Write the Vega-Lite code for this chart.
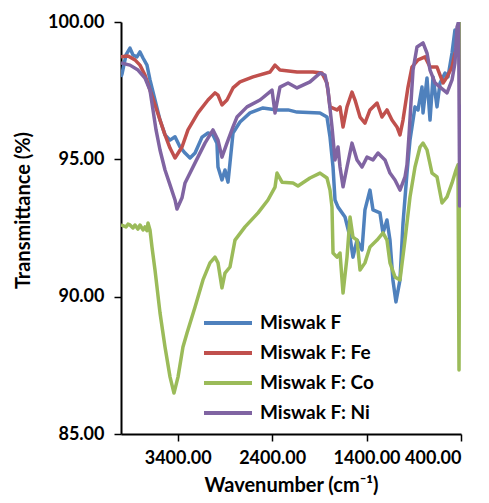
{
  "$schema": "https://vega.github.io/schema/vega-lite/v6.json",
  "autosize": {"type": "none"},
  "padding": {"left": 121, "top": 22, "right": 28, "bottom": 69},
  "width": 340,
  "height": 412,
  "background": "white",
  "config": {
    "view": {"stroke": null},
    "font": "Lato",
    "axis": {
      "grid": false,
      "domainColor": "black",
      "domainWidth": 2,
      "tickColor": "black",
      "tickWidth": 1.5,
      "tickSize": 7,
      "labelFont": "Lato",
      "labelFontSize": 18,
      "labelFontWeight": "bold",
      "labelColor": "black",
      "titleFont": "Lato",
      "titleFontSize": 20,
      "titleFontWeight": "bold",
      "titleColor": "black"
    }
  },
  "datasets": {
    "spectra": [
      {"sample": "Miswak F", "wavenumber": 4000, "transmittance": 98.00},
      {"sample": "Miswak F", "wavenumber": 3989, "transmittance": 98.11},
      {"sample": "Miswak F", "wavenumber": 3947, "transmittance": 98.80},
      {"sample": "Miswak F", "wavenumber": 3905, "transmittance": 99.05},
      {"sample": "Miswak F", "wavenumber": 3873, "transmittance": 98.80},
      {"sample": "Miswak F", "wavenumber": 3831, "transmittance": 98.73},
      {"sample": "Miswak F", "wavenumber": 3799, "transmittance": 98.91},
      {"sample": "Miswak F", "wavenumber": 3767, "transmittance": 98.69},
      {"sample": "Miswak F", "wavenumber": 3725, "transmittance": 98.43},
      {"sample": "Miswak F", "wavenumber": 3693, "transmittance": 97.89},
      {"sample": "Miswak F", "wavenumber": 3640, "transmittance": 97.16},
      {"sample": "Miswak F", "wavenumber": 3587, "transmittance": 96.43},
      {"sample": "Miswak F", "wavenumber": 3534, "transmittance": 95.89},
      {"sample": "Miswak F", "wavenumber": 3481, "transmittance": 95.70},
      {"sample": "Miswak F", "wavenumber": 3428, "transmittance": 95.82},
      {"sample": "Miswak F", "wavenumber": 3375, "transmittance": 95.45},
      {"sample": "Miswak F", "wavenumber": 3322, "transmittance": 95.23},
      {"sample": "Miswak F", "wavenumber": 3269, "transmittance": 95.05},
      {"sample": "Miswak F", "wavenumber": 3216, "transmittance": 95.23},
      {"sample": "Miswak F", "wavenumber": 3142, "transmittance": 95.81},
      {"sample": "Miswak F", "wavenumber": 3079, "transmittance": 95.96},
      {"sample": "Miswak F", "wavenumber": 3026, "transmittance": 95.89},
      {"sample": "Miswak F", "wavenumber": 2984, "transmittance": 95.59},
      {"sample": "Miswak F", "wavenumber": 2973, "transmittance": 94.72},
      {"sample": "Miswak F", "wavenumber": 2931, "transmittance": 94.25},
      {"sample": "Miswak F", "wavenumber": 2899, "transmittance": 94.61},
      {"sample": "Miswak F", "wavenumber": 2867, "transmittance": 94.17},
      {"sample": "Miswak F", "wavenumber": 2846, "transmittance": 94.87},
      {"sample": "Miswak F", "wavenumber": 2814, "transmittance": 95.96},
      {"sample": "Miswak F", "wavenumber": 2740, "transmittance": 96.36},
      {"sample": "Miswak F", "wavenumber": 2634, "transmittance": 96.69},
      {"sample": "Miswak F", "wavenumber": 2497, "transmittance": 96.87},
      {"sample": "Miswak F", "wavenumber": 2348, "transmittance": 96.80},
      {"sample": "Miswak F", "wavenumber": 2231, "transmittance": 96.80},
      {"sample": "Miswak F", "wavenumber": 2136, "transmittance": 96.72},
      {"sample": "Miswak F", "wavenumber": 1893, "transmittance": 96.69},
      {"sample": "Miswak F", "wavenumber": 1819, "transmittance": 96.54},
      {"sample": "Miswak F", "wavenumber": 1787, "transmittance": 95.81},
      {"sample": "Miswak F", "wavenumber": 1755, "transmittance": 94.72},
      {"sample": "Miswak F", "wavenumber": 1734, "transmittance": 93.52},
      {"sample": "Miswak F", "wavenumber": 1702, "transmittance": 93.26},
      {"sample": "Miswak F", "wavenumber": 1628, "transmittance": 92.90},
      {"sample": "Miswak F", "wavenumber": 1575, "transmittance": 92.17},
      {"sample": "Miswak F", "wavenumber": 1544, "transmittance": 91.44},
      {"sample": "Miswak F", "wavenumber": 1501, "transmittance": 92.06},
      {"sample": "Miswak F", "wavenumber": 1448, "transmittance": 91.70},
      {"sample": "Miswak F", "wavenumber": 1417, "transmittance": 93.16},
      {"sample": "Miswak F", "wavenumber": 1364, "transmittance": 93.88},
      {"sample": "Miswak F", "wavenumber": 1332, "transmittance": 93.16},
      {"sample": "Miswak F", "wavenumber": 1258, "transmittance": 93.05},
      {"sample": "Miswak F", "wavenumber": 1226, "transmittance": 92.32},
      {"sample": "Miswak F", "wavenumber": 1184, "transmittance": 92.79},
      {"sample": "Miswak F", "wavenumber": 1152, "transmittance": 92.06},
      {"sample": "Miswak F", "wavenumber": 1121, "transmittance": 90.61},
      {"sample": "Miswak F", "wavenumber": 1089, "transmittance": 89.81},
      {"sample": "Miswak F", "wavenumber": 1046, "transmittance": 90.61},
      {"sample": "Miswak F", "wavenumber": 1014, "transmittance": 92.68},
      {"sample": "Miswak F", "wavenumber": 972, "transmittance": 94.50},
      {"sample": "Miswak F", "wavenumber": 940, "transmittance": 95.70},
      {"sample": "Miswak F", "wavenumber": 919, "transmittance": 96.18},
      {"sample": "Miswak F", "wavenumber": 887, "transmittance": 96.91},
      {"sample": "Miswak F", "wavenumber": 855, "transmittance": 96.80},
      {"sample": "Miswak F", "wavenumber": 813, "transmittance": 97.63},
      {"sample": "Miswak F", "wavenumber": 802, "transmittance": 96.69},
      {"sample": "Miswak F", "wavenumber": 760, "transmittance": 97.96},
      {"sample": "Miswak F", "wavenumber": 728, "transmittance": 96.43},
      {"sample": "Miswak F", "wavenumber": 696, "transmittance": 98.00},
      {"sample": "Miswak F", "wavenumber": 654, "transmittance": 96.91},
      {"sample": "Miswak F", "wavenumber": 622, "transmittance": 97.78},
      {"sample": "Miswak F", "wavenumber": 569, "transmittance": 98.14},
      {"sample": "Miswak F", "wavenumber": 538, "transmittance": 98.00},
      {"sample": "Miswak F", "wavenumber": 495, "transmittance": 98.87},
      {"sample": "Miswak F", "wavenumber": 464, "transmittance": 99.71},
      {"sample": "Miswak F", "wavenumber": 442, "transmittance": 98.87},
      {"sample": "Miswak F", "wavenumber": 425, "transmittance": 100.0},
      {"sample": "Miswak F", "wavenumber": 410, "transmittance": 97.5},
      {"sample": "Miswak F", "wavenumber": 400, "transmittance": 98.2},

      {"sample": "Miswak F: Fe", "wavenumber": 4000, "transmittance": 98.73},
      {"sample": "Miswak F: Fe", "wavenumber": 3926, "transmittance": 98.76},
      {"sample": "Miswak F: Fe", "wavenumber": 3852, "transmittance": 98.62},
      {"sample": "Miswak F: Fe", "wavenumber": 3799, "transmittance": 98.43},
      {"sample": "Miswak F: Fe", "wavenumber": 3746, "transmittance": 98.07},
      {"sample": "Miswak F: Fe", "wavenumber": 3693, "transmittance": 97.52},
      {"sample": "Miswak F: Fe", "wavenumber": 3640, "transmittance": 96.98},
      {"sample": "Miswak F: Fe", "wavenumber": 3587, "transmittance": 96.43},
      {"sample": "Miswak F: Fe", "wavenumber": 3534, "transmittance": 95.89},
      {"sample": "Miswak F: Fe", "wavenumber": 3481, "transmittance": 95.41},
      {"sample": "Miswak F: Fe", "wavenumber": 3428, "transmittance": 95.05},
      {"sample": "Miswak F: Fe", "wavenumber": 3354, "transmittance": 95.45},
      {"sample": "Miswak F: Fe", "wavenumber": 3291, "transmittance": 96.07},
      {"sample": "Miswak F: Fe", "wavenumber": 3185, "transmittance": 96.69},
      {"sample": "Miswak F: Fe", "wavenumber": 3079, "transmittance": 97.16},
      {"sample": "Miswak F: Fe", "wavenumber": 3005, "transmittance": 97.42},
      {"sample": "Miswak F: Fe", "wavenumber": 2973, "transmittance": 97.34},
      {"sample": "Miswak F: Fe", "wavenumber": 2931, "transmittance": 96.98},
      {"sample": "Miswak F: Fe", "wavenumber": 2878, "transmittance": 97.16},
      {"sample": "Miswak F: Fe", "wavenumber": 2814, "transmittance": 97.60},
      {"sample": "Miswak F: Fe", "wavenumber": 2740, "transmittance": 97.82},
      {"sample": "Miswak F: Fe", "wavenumber": 2602, "transmittance": 98.00},
      {"sample": "Miswak F: Fe", "wavenumber": 2422, "transmittance": 98.18},
      {"sample": "Miswak F: Fe", "wavenumber": 2369, "transmittance": 98.43},
      {"sample": "Miswak F: Fe", "wavenumber": 2317, "transmittance": 98.25},
      {"sample": "Miswak F: Fe", "wavenumber": 2136, "transmittance": 98.18},
      {"sample": "Miswak F: Fe", "wavenumber": 1967, "transmittance": 98.18},
      {"sample": "Miswak F: Fe", "wavenumber": 1872, "transmittance": 98.14},
      {"sample": "Miswak F: Fe", "wavenumber": 1819, "transmittance": 97.78},
      {"sample": "Miswak F: Fe", "wavenumber": 1787, "transmittance": 96.91},
      {"sample": "Miswak F: Fe", "wavenumber": 1713, "transmittance": 96.80},
      {"sample": "Miswak F: Fe", "wavenumber": 1681, "transmittance": 96.91},
      {"sample": "Miswak F: Fe", "wavenumber": 1649, "transmittance": 96.18},
      {"sample": "Miswak F: Fe", "wavenumber": 1607, "transmittance": 96.91},
      {"sample": "Miswak F: Fe", "wavenumber": 1554, "transmittance": 97.45},
      {"sample": "Miswak F: Fe", "wavenumber": 1522, "transmittance": 97.16},
      {"sample": "Miswak F: Fe", "wavenumber": 1469, "transmittance": 96.54},
      {"sample": "Miswak F: Fe", "wavenumber": 1417, "transmittance": 96.32},
      {"sample": "Miswak F: Fe", "wavenumber": 1364, "transmittance": 96.80},
      {"sample": "Miswak F: Fe", "wavenumber": 1289, "transmittance": 97.05},
      {"sample": "Miswak F: Fe", "wavenumber": 1237, "transmittance": 96.54},
      {"sample": "Miswak F: Fe", "wavenumber": 1184, "transmittance": 96.80},
      {"sample": "Miswak F: Fe", "wavenumber": 1131, "transmittance": 96.43},
      {"sample": "Miswak F: Fe", "wavenumber": 1078, "transmittance": 96.18},
      {"sample": "Miswak F: Fe", "wavenumber": 1046, "transmittance": 95.89},
      {"sample": "Miswak F: Fe", "wavenumber": 1014, "transmittance": 96.43},
      {"sample": "Miswak F: Fe", "wavenumber": 961, "transmittance": 97.63},
      {"sample": "Miswak F: Fe", "wavenumber": 919, "transmittance": 98.36},
      {"sample": "Miswak F: Fe", "wavenumber": 855, "transmittance": 98.62},
      {"sample": "Miswak F: Fe", "wavenumber": 781, "transmittance": 98.73},
      {"sample": "Miswak F: Fe", "wavenumber": 728, "transmittance": 98.36},
      {"sample": "Miswak F: Fe", "wavenumber": 654, "transmittance": 98.36},
      {"sample": "Miswak F: Fe", "wavenumber": 622, "transmittance": 98.07},
      {"sample": "Miswak F: Fe", "wavenumber": 590, "transmittance": 97.78},
      {"sample": "Miswak F: Fe", "wavenumber": 548, "transmittance": 98.00},
      {"sample": "Miswak F: Fe", "wavenumber": 495, "transmittance": 98.36},
      {"sample": "Miswak F: Fe", "wavenumber": 464, "transmittance": 98.87},
      {"sample": "Miswak F: Fe", "wavenumber": 430, "transmittance": 98.9},
      {"sample": "Miswak F: Fe", "wavenumber": 412, "transmittance": 100.0},
      {"sample": "Miswak F: Fe", "wavenumber": 400, "transmittance": 92.6},

      {"sample": "Miswak F: Co", "wavenumber": 4000, "transmittance": 92.61},
      {"sample": "Miswak F: Co", "wavenumber": 3968, "transmittance": 92.57},
      {"sample": "Miswak F: Co", "wavenumber": 3947, "transmittance": 92.54},
      {"sample": "Miswak F: Co", "wavenumber": 3926, "transmittance": 92.64},
      {"sample": "Miswak F: Co", "wavenumber": 3905, "transmittance": 92.61},
      {"sample": "Miswak F: Co", "wavenumber": 3873, "transmittance": 92.50},
      {"sample": "Miswak F: Co", "wavenumber": 3852, "transmittance": 92.61},
      {"sample": "Miswak F: Co", "wavenumber": 3820, "transmittance": 92.46},
      {"sample": "Miswak F: Co", "wavenumber": 3799, "transmittance": 92.61},
      {"sample": "Miswak F: Co", "wavenumber": 3767, "transmittance": 92.43},
      {"sample": "Miswak F: Co", "wavenumber": 3746, "transmittance": 92.54},
      {"sample": "Miswak F: Co", "wavenumber": 3725, "transmittance": 92.40},
      {"sample": "Miswak F: Co", "wavenumber": 3714, "transmittance": 92.68},
      {"sample": "Miswak F: Co", "wavenumber": 3693, "transmittance": 92.43},
      {"sample": "Miswak F: Co", "wavenumber": 3672, "transmittance": 91.81},
      {"sample": "Miswak F: Co", "wavenumber": 3640, "transmittance": 90.97},
      {"sample": "Miswak F: Co", "wavenumber": 3587, "transmittance": 89.41},
      {"sample": "Miswak F: Co", "wavenumber": 3534, "transmittance": 88.17},
      {"sample": "Miswak F: Co", "wavenumber": 3481, "transmittance": 87.08},
      {"sample": "Miswak F: Co", "wavenumber": 3439, "transmittance": 86.49},
      {"sample": "Miswak F: Co", "wavenumber": 3396, "transmittance": 87.08},
      {"sample": "Miswak F: Co", "wavenumber": 3344, "transmittance": 88.17},
      {"sample": "Miswak F: Co", "wavenumber": 3301, "transmittance": 88.68},
      {"sample": "Miswak F: Co", "wavenumber": 3216, "transmittance": 89.62},
      {"sample": "Miswak F: Co", "wavenumber": 3132, "transmittance": 90.61},
      {"sample": "Miswak F: Co", "wavenumber": 3058, "transmittance": 91.23},
      {"sample": "Miswak F: Co", "wavenumber": 3005, "transmittance": 91.44},
      {"sample": "Miswak F: Co", "wavenumber": 2973, "transmittance": 91.23},
      {"sample": "Miswak F: Co", "wavenumber": 2931, "transmittance": 90.32},
      {"sample": "Miswak F: Co", "wavenumber": 2899, "transmittance": 90.86},
      {"sample": "Miswak F: Co", "wavenumber": 2846, "transmittance": 91.08},
      {"sample": "Miswak F: Co", "wavenumber": 2793, "transmittance": 92.06},
      {"sample": "Miswak F: Co", "wavenumber": 2687, "transmittance": 92.54},
      {"sample": "Miswak F: Co", "wavenumber": 2549, "transmittance": 93.05},
      {"sample": "Miswak F: Co", "wavenumber": 2444, "transmittance": 93.52},
      {"sample": "Miswak F: Co", "wavenumber": 2369, "transmittance": 93.99},
      {"sample": "Miswak F: Co", "wavenumber": 2348, "transmittance": 94.50},
      {"sample": "Miswak F: Co", "wavenumber": 2295, "transmittance": 94.17},
      {"sample": "Miswak F: Co", "wavenumber": 2179, "transmittance": 94.14},
      {"sample": "Miswak F: Co", "wavenumber": 2126, "transmittance": 94.03},
      {"sample": "Miswak F: Co", "wavenumber": 1999, "transmittance": 94.32},
      {"sample": "Miswak F: Co", "wavenumber": 1893, "transmittance": 94.50},
      {"sample": "Miswak F: Co", "wavenumber": 1819, "transmittance": 94.32},
      {"sample": "Miswak F: Co", "wavenumber": 1787, "transmittance": 93.88},
      {"sample": "Miswak F: Co", "wavenumber": 1766, "transmittance": 93.26},
      {"sample": "Miswak F: Co", "wavenumber": 1755, "transmittance": 91.59},
      {"sample": "Miswak F: Co", "wavenumber": 1713, "transmittance": 91.44},
      {"sample": "Miswak F: Co", "wavenumber": 1681, "transmittance": 91.59},
      {"sample": "Miswak F: Co", "wavenumber": 1649, "transmittance": 90.13},
      {"sample": "Miswak F: Co", "wavenumber": 1607, "transmittance": 91.44},
      {"sample": "Miswak F: Co", "wavenumber": 1575, "transmittance": 92.90},
      {"sample": "Miswak F: Co", "wavenumber": 1544, "transmittance": 92.17},
      {"sample": "Miswak F: Co", "wavenumber": 1501, "transmittance": 92.06},
      {"sample": "Miswak F: Co", "wavenumber": 1469, "transmittance": 90.97},
      {"sample": "Miswak F: Co", "wavenumber": 1417, "transmittance": 91.23},
      {"sample": "Miswak F: Co", "wavenumber": 1364, "transmittance": 91.81},
      {"sample": "Miswak F: Co", "wavenumber": 1289, "transmittance": 92.06},
      {"sample": "Miswak F: Co", "wavenumber": 1226, "transmittance": 92.32},
      {"sample": "Miswak F: Co", "wavenumber": 1184, "transmittance": 92.06},
      {"sample": "Miswak F: Co", "wavenumber": 1152, "transmittance": 91.23},
      {"sample": "Miswak F: Co", "wavenumber": 1099, "transmittance": 90.72},
      {"sample": "Miswak F: Co", "wavenumber": 1046, "transmittance": 90.61},
      {"sample": "Miswak F: Co", "wavenumber": 993, "transmittance": 92.06},
      {"sample": "Miswak F: Co", "wavenumber": 940, "transmittance": 93.63},
      {"sample": "Miswak F: Co", "wavenumber": 887, "transmittance": 94.72},
      {"sample": "Miswak F: Co", "wavenumber": 834, "transmittance": 95.45},
      {"sample": "Miswak F: Co", "wavenumber": 802, "transmittance": 95.59},
      {"sample": "Miswak F: Co", "wavenumber": 760, "transmittance": 95.34},
      {"sample": "Miswak F: Co", "wavenumber": 707, "transmittance": 94.50},
      {"sample": "Miswak F: Co", "wavenumber": 654, "transmittance": 94.36},
      {"sample": "Miswak F: Co", "wavenumber": 601, "transmittance": 93.41},
      {"sample": "Miswak F: Co", "wavenumber": 548, "transmittance": 93.63},
      {"sample": "Miswak F: Co", "wavenumber": 495, "transmittance": 94.14},
      {"sample": "Miswak F: Co", "wavenumber": 453, "transmittance": 94.61},
      {"sample": "Miswak F: Co", "wavenumber": 432, "transmittance": 94.8},
      {"sample": "Miswak F: Co", "wavenumber": 421, "transmittance": 87.33},
      {"sample": "Miswak F: Co", "wavenumber": 408, "transmittance": 100.0},
      {"sample": "Miswak F: Co", "wavenumber": 400, "transmittance": 96.0},

      {"sample": "Miswak F: Ni", "wavenumber": 4000, "transmittance": 98.51},
      {"sample": "Miswak F: Ni", "wavenumber": 3905, "transmittance": 98.43},
      {"sample": "Miswak F: Ni", "wavenumber": 3820, "transmittance": 98.25},
      {"sample": "Miswak F: Ni", "wavenumber": 3746, "transmittance": 97.96},
      {"sample": "Miswak F: Ni", "wavenumber": 3693, "transmittance": 97.52},
      {"sample": "Miswak F: Ni", "wavenumber": 3661, "transmittance": 96.80},
      {"sample": "Miswak F: Ni", "wavenumber": 3629, "transmittance": 96.07},
      {"sample": "Miswak F: Ni", "wavenumber": 3587, "transmittance": 95.34},
      {"sample": "Miswak F: Ni", "wavenumber": 3534, "transmittance": 94.61},
      {"sample": "Miswak F: Ni", "wavenumber": 3481, "transmittance": 94.07},
      {"sample": "Miswak F: Ni", "wavenumber": 3428, "transmittance": 93.52},
      {"sample": "Miswak F: Ni", "wavenumber": 3407, "transmittance": 93.19},
      {"sample": "Miswak F: Ni", "wavenumber": 3354, "transmittance": 93.60},
      {"sample": "Miswak F: Ni", "wavenumber": 3322, "transmittance": 94.14},
      {"sample": "Miswak F: Ni", "wavenumber": 3216, "transmittance": 94.87},
      {"sample": "Miswak F: Ni", "wavenumber": 3111, "transmittance": 95.59},
      {"sample": "Miswak F: Ni", "wavenumber": 3026, "transmittance": 96.07},
      {"sample": "Miswak F: Ni", "wavenumber": 2973, "transmittance": 95.70},
      {"sample": "Miswak F: Ni", "wavenumber": 2931, "transmittance": 95.08},
      {"sample": "Miswak F: Ni", "wavenumber": 2878, "transmittance": 95.59},
      {"sample": "Miswak F: Ni", "wavenumber": 2814, "transmittance": 96.18},
      {"sample": "Miswak F: Ni", "wavenumber": 2772, "transmittance": 96.54},
      {"sample": "Miswak F: Ni", "wavenumber": 2666, "transmittance": 96.91},
      {"sample": "Miswak F: Ni", "wavenumber": 2528, "transmittance": 97.16},
      {"sample": "Miswak F: Ni", "wavenumber": 2401, "transmittance": 97.52},
      {"sample": "Miswak F: Ni", "wavenumber": 2369, "transmittance": 96.69},
      {"sample": "Miswak F: Ni", "wavenumber": 2317, "transmittance": 97.63},
      {"sample": "Miswak F: Ni", "wavenumber": 2231, "transmittance": 97.78},
      {"sample": "Miswak F: Ni", "wavenumber": 2136, "transmittance": 97.60},
      {"sample": "Miswak F: Ni", "wavenumber": 1999, "transmittance": 97.82},
      {"sample": "Miswak F: Ni", "wavenumber": 1893, "transmittance": 98.14},
      {"sample": "Miswak F: Ni", "wavenumber": 1840, "transmittance": 98.07},
      {"sample": "Miswak F: Ni", "wavenumber": 1808, "transmittance": 97.52},
      {"sample": "Miswak F: Ni", "wavenumber": 1766, "transmittance": 96.18},
      {"sample": "Miswak F: Ni", "wavenumber": 1734, "transmittance": 94.98},
      {"sample": "Miswak F: Ni", "wavenumber": 1702, "transmittance": 95.45},
      {"sample": "Miswak F: Ni", "wavenumber": 1681, "transmittance": 94.72},
      {"sample": "Miswak F: Ni", "wavenumber": 1649, "transmittance": 94.00},
      {"sample": "Miswak F: Ni", "wavenumber": 1607, "transmittance": 94.72},
      {"sample": "Miswak F: Ni", "wavenumber": 1554, "transmittance": 95.59},
      {"sample": "Miswak F: Ni", "wavenumber": 1501, "transmittance": 94.98},
      {"sample": "Miswak F: Ni", "wavenumber": 1448, "transmittance": 94.72},
      {"sample": "Miswak F: Ni", "wavenumber": 1395, "transmittance": 95.08},
      {"sample": "Miswak F: Ni", "wavenumber": 1332, "transmittance": 94.98},
      {"sample": "Miswak F: Ni", "wavenumber": 1279, "transmittance": 95.23},
      {"sample": "Miswak F: Ni", "wavenumber": 1205, "transmittance": 94.98},
      {"sample": "Miswak F: Ni", "wavenumber": 1152, "transmittance": 94.50},
      {"sample": "Miswak F: Ni", "wavenumber": 1099, "transmittance": 94.25},
      {"sample": "Miswak F: Ni", "wavenumber": 1046, "transmittance": 93.88},
      {"sample": "Miswak F: Ni", "wavenumber": 993, "transmittance": 94.36},
      {"sample": "Miswak F: Ni", "wavenumber": 972, "transmittance": 94.80},
      {"sample": "Miswak F: Ni", "wavenumber": 950, "transmittance": 95.90},
      {"sample": "Miswak F: Ni", "wavenumber": 930, "transmittance": 97.05},
      {"sample": "Miswak F: Ni", "wavenumber": 908, "transmittance": 98.25},
      {"sample": "Miswak F: Ni", "wavenumber": 866, "transmittance": 99.09},
      {"sample": "Miswak F: Ni", "wavenumber": 802, "transmittance": 99.24},
      {"sample": "Miswak F: Ni", "wavenumber": 760, "transmittance": 98.87},
      {"sample": "Miswak F: Ni", "wavenumber": 728, "transmittance": 98.25},
      {"sample": "Miswak F: Ni", "wavenumber": 675, "transmittance": 97.78},
      {"sample": "Miswak F: Ni", "wavenumber": 622, "transmittance": 97.63},
      {"sample": "Miswak F: Ni", "wavenumber": 548, "transmittance": 97.42},
      {"sample": "Miswak F: Ni", "wavenumber": 495, "transmittance": 97.89},
      {"sample": "Miswak F: Ni", "wavenumber": 464, "transmittance": 98.51},
      {"sample": "Miswak F: Ni", "wavenumber": 442, "transmittance": 99.82},
      {"sample": "Miswak F: Ni", "wavenumber": 425, "transmittance": 100.0},
      {"sample": "Miswak F: Ni", "wavenumber": 414, "transmittance": 93.3},
      {"sample": "Miswak F: Ni", "wavenumber": 400, "transmittance": 97.0}
    ]
  },
  "data": {"name": "spectra"},
  "mark": {"type": "line", "strokeWidth": 3.5, "clip": true, "strokeJoin": "round"},
  "encoding": {
    "x": {
      "field": "wavenumber",
      "type": "quantitative",
      "scale": {"domain": [400, 4000], "reverse": true, "nice": false, "zero": false},
      "axis": {
        "values": [3400, 2400, 1400, 400],
        "format": ".2f",
        "labelPadding": 8,
        "title": "Wavenumber (cm⁻¹)",
        "titlePadding": 8
      }
    },
    "y": {
      "field": "transmittance",
      "type": "quantitative",
      "scale": {"domain": [85, 100], "nice": false, "zero": false},
      "axis": {
        "values": [85, 90, 95, 100],
        "format": ".2f",
        "labelPadding": 10,
        "title": "Transmittance (%)",
        "titlePadding": 14,
        "titleY": 188
      }
    },
    "color": {
      "field": "sample",
      "type": "nominal",
      "sort": ["Miswak F", "Miswak F: Fe", "Miswak F: Co", "Miswak F: Ni"],
      "scale": {
        "domain": ["Miswak F", "Miswak F: Fe", "Miswak F: Co", "Miswak F: Ni"],
        "range": ["#4F81BD", "#C0504D", "#9BBB59", "#8064A2"]
      },
      "legend": {
        "title": null,
        "orient": "none",
        "legendX": 81,
        "legendY": 291,
        "symbolType": "stroke",
        "symbolSize": 2304,
        "symbolStrokeWidth": 4,
        "clipHeight": 20,
        "labelFont": "Lato",
        "labelFontSize": 19,
        "labelFontWeight": "bold",
        "labelColor": "black",
        "labelOffset": 6,
        "rowPadding": 10
      }
    }
  }
}
